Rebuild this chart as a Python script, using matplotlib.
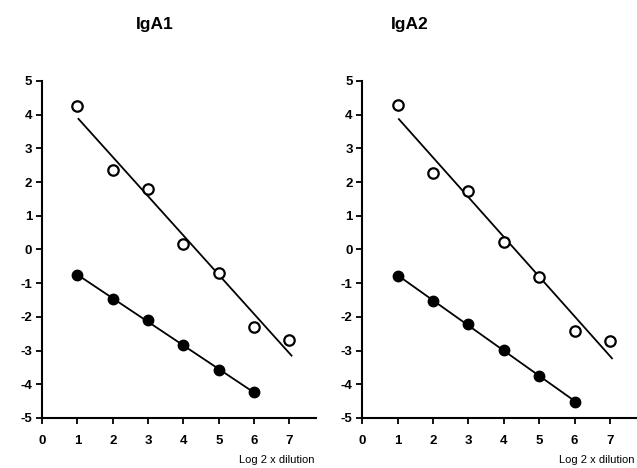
import matplotlib.pyplot as plt
import numpy as np

plt.rcParams['font.family'] = ['Liberation Sans', 'DejaVu Sans']

dilution = [1, 2, 3, 4, 5, 6, 7]
dilution_filled = [1, 2, 3, 4, 5, 6]

iga1_open = [4.26, 2.35, 1.80, 0.17, -0.70, -2.29, -2.69]
iga1_filled = [-0.76, -1.47, -2.10, -2.83, -3.59, -4.24]
iga2_open = [4.30, 2.28, 1.74, 0.21, -0.81, -2.41, -2.71]
iga2_filled = [-0.79, -1.54, -2.20, -2.98, -3.76, -4.52]

titles = ["IgA1", "IgA2"]
panels = [(iga1_open, iga1_filled), (iga2_open, iga2_filled)]
yticks = [-5, -4, -3, -2, -1, 0, 1, 2, 3, 4, 5]
xticks = [0, 1, 2, 3, 4, 5, 6, 7]

fig = plt.figure(figsize=(6.37, 4.68), dpi=100)
lefts = [0.066, 0.569]
title_x = [155, 410]

for i, (open_y, filled_y) in enumerate(panels):
    ax = fig.add_axes([lefts[i], 0.107, 0.43, 0.72])
    x = np.array(dilution)
    xf = np.array(dilution_filled)
    # regression lines through the points
    p = np.polyfit(x, open_y, 1)
    xl = np.array([1.03, 7.06])
    ax.plot(xl, np.polyval(p, xl), color='black', lw=1.3, zorder=2)
    pf = np.polyfit(xf, filled_y, 1)
    ax.plot(xf, np.polyval(pf, xf), color='black', lw=1.3, zorder=2)
    ax.plot(x, open_y, 'o', ms=7.5, mfc='white', mec='black', mew=1.6, zorder=3)
    ax.plot(xf, filled_y, 'o', ms=7.5, mfc='black', mec='black', zorder=3)

    ax.set_xlim(0, 7.75)
    ax.set_ylim(-5, 5)
    ax.set_xticks(xticks)
    ax.set_yticks(yticks)
    ax.set_xticklabels([str(t) for t in xticks], fontweight='bold', fontsize=9.5)
    ax.set_yticklabels([str(t) for t in yticks], fontweight='bold', fontsize=9.5)
    for s in ['top', 'right']:
        ax.spines[s].set_visible(False)
    for s in ['left', 'bottom']:
        ax.spines[s].set_linewidth(1.5)
    ax.tick_params(axis='both', length=4, width=1.3, direction='out', pad=3)
    ax.tick_params(axis='x', pad=8)
    ax.patch.set_alpha(0)

    fig.text(title_x[i] / 637, 1 - 25 / 468, titles[i], ha='center', va='center',
             fontsize=12.5, fontweight='bold')
    ax.text(7.7, -6.25, "Log 2 x dilution", ha='right', va='center', fontsize=8)

fig.savefig("out.png", dpi=100)
